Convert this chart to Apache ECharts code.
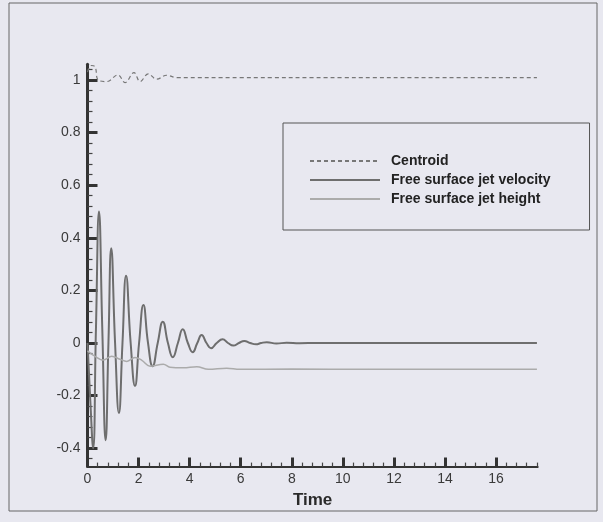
<!DOCTYPE html>
<html>
<head>
<meta charset="utf-8">
<script src="https://cdn.jsdelivr.net/npm/echarts@6/dist/echarts.min.js"></script>
<style>
html,body{margin:0;padding:0;background:#e8e8f0;}
#c{width:603px;height:522px;}
</style>
</head>
<body>
<div id="c"></div>
<script>
// ---- data ----
var seriesNames = ['Centroid', 'Free surface jet velocity', 'Free surface jet height'];
var xMajorTicks = [0, 2, 4, 6, 8, 10, 12, 14, 16];
var yMajorTicks = [-0.4, -0.2, 0, 0.2, 0.4, 0.6, 0.8, 1];
var centroid = [
  [0, 1.03], [0.16, 1.055], [0.3, 1.05], [0.42, 1.0], [0.75, 0.994], [1.19, 1.019],
  [1.47, 0.99], [1.82, 1.028], [2.06, 0.994], [2.38, 1.023], [2.71, 1.003],
  [3.1, 1.018], [3.5, 1.009], [6, 1.009], [10, 1.009], [14, 1.009], [17.6, 1.009]
];
var velocity = [
  [0, 0.0], [0.11, -0.22], [0.22, -0.40], [0.33, 0.05], [0.45, 0.50], [0.58, 0.05],
  [0.71, -0.37], [0.82, 0.0], [0.93, 0.36], [1.08, 0.0], [1.23, -0.266], [1.37, 0.0],
  [1.51, 0.256], [1.69, 0.0], [1.86, -0.163], [2.02, 0.0], [2.19, 0.144], [2.37, 0.0],
  [2.55, -0.088], [2.75, 0.0], [2.95, 0.081], [3.15, 0.0], [3.34, -0.054], [3.54, 0.0],
  [3.73, 0.052], [3.93, 0.0], [4.12, -0.035], [4.3, 0.0], [4.47, 0.030], [4.66, 0.0],
  [4.84, -0.020], [5.06, 0.0], [5.29, 0.014], [5.5, 0.0], [5.71, -0.010], [5.93, 0.0],
  [6.14, 0.008], [6.37, 0.0], [6.6, -0.005], [6.8, 0.0], [7.02, 0.003], [7.4, -0.002],
  [7.8, 0.001], [8.3, -0.001], [9, 0.0], [13, 0.0], [17.6, 0.0]
];
var height = [
  [0, -0.03], [0.22, -0.046], [0.62, -0.065], [0.95, -0.05], [1.27, -0.062],
  [1.54, -0.07], [1.86, -0.055], [2.13, -0.066], [2.45, -0.088], [2.97, -0.081],
  [3.23, -0.092], [3.75, -0.094], [4.28, -0.09], [4.73, -0.1], [5.45, -0.096],
  [5.97, -0.1], [8, -0.099], [11, -0.1], [14, -0.1], [17.6, -0.1]
];
var xRange = [0, 17.63];
var yRange = [-0.47, 1.06];

// minor tick positions (axis decoration)
function minors(lo, hi, step, majors) {
  var out = [];
  for (var v = lo; v <= hi + 1e-9; v += step) {
    var r = Math.round(v * 1000) / 1000;
    var isMajor = majors.some(function (m) { return Math.abs(m - r) < 1e-6; });
    if (!isMajor) out.push(r);
  }
  return out;
}
var xMinor = minors(0, 17.6, 0.4, xMajorTicks);
var yMinor = minors(-0.44, 1.04, 0.04, yMajorTicks);

var font = 'Liberation Sans, Arial, Helvetica, sans-serif';
var chart = echarts.init(document.getElementById('c'));
chart.setOption({
  backgroundColor: '#e8e8f0',
  animation: false,
  grid: { left: 87.5, right: 65.3, top: 64.2, bottom: 55.4, containLabel: false },
  xAxis: [{
    type: 'value', min: xRange[0], max: xRange[1], position: 'bottom',
    name: 'Time', nameLocation: 'middle', nameGap: 23,
    nameTextStyle: { fontFamily: font, fontSize: 17, fontWeight: 'bold', color: '#2a2a2a' },
    axisLine: { show: true, onZero: false, lineStyle: { color: '#333', width: 2 } },
    axisTick: { show: true, inside: true, length: 9, customValues: xMajorTicks, lineStyle: { color: '#333', width: 3 } },
    axisLabel: { show: true, customValues: xMajorTicks, margin: 6, fontFamily: font, fontSize: 14, color: '#3a3a3a' },
    splitLine: { show: false }
  }, {
    type: 'value', min: xRange[0], max: xRange[1], position: 'bottom',
    axisLine: { show: false, onZero: false },
    axisTick: { show: true, inside: true, length: 4, customValues: xMinor, lineStyle: { color: '#444', width: 1.2 } },
    axisLabel: { show: false },
    splitLine: { show: false }
  }],
  yAxis: [{
    type: 'value', min: yRange[0], max: yRange[1], position: 'left',
    axisLine: { show: true, onZero: false, lineStyle: { color: '#333', width: 3 } },
    axisTick: { show: true, inside: true, length: 10, customValues: yMajorTicks, lineStyle: { color: '#333', width: 3 } },
    axisLabel: { show: true, customValues: yMajorTicks, margin: 7, fontFamily: font, fontSize: 14, color: '#3a3a3a' },
    splitLine: { show: false }
  }, {
    type: 'value', min: yRange[0], max: yRange[1], position: 'left',
    axisLine: { show: false, onZero: false },
    axisTick: { show: true, inside: true, length: 5, customValues: yMinor, lineStyle: { color: '#444', width: 1.2 } },
    axisLabel: { show: false },
    splitLine: { show: false }
  }],
  legend: {
    left: 283, top: 123, orient: 'vertical',
    padding: [31, 39, 24, 26],
    borderColor: '#555', borderWidth: 1, borderRadius: 0,
    itemWidth: 70, itemHeight: 14, itemGap: 5,
    itemStyle: { color: 'rgba(0,0,0,0)', borderColor: 'rgba(0,0,0,0)', borderWidth: 0 },
    textStyle: { fontFamily: font, fontSize: 14, fontWeight: 'bold', color: '#222', padding: [0, 0, 0, 6] },
    data: seriesNames
  },
  graphic: [{
    type: 'rect', silent: true, z: -1,
    shape: { x: 9, y: 3, width: 588, height: 508 },
    style: { fill: 'none', stroke: '#666', lineWidth: 1 }
  }],
  series: [{
    name: seriesNames[0], type: 'line', data: centroid, showSymbol: false, symbol: 'none',
    smooth: 0.4, lineStyle: { color: '#777', width: 1.2, type: [4, 3] }, itemStyle: { color: '#777' }
  }, {
    name: seriesNames[1], type: 'line', data: velocity, showSymbol: false, symbol: 'none',
    smooth: 0.5, lineStyle: { color: '#6e6e6e', width: 2 }, itemStyle: { color: '#6e6e6e' }
  }, {
    name: seriesNames[2], type: 'line', data: height, showSymbol: false, symbol: 'none',
    smooth: 0.4, lineStyle: { color: '#ababab', width: 1.5 }, itemStyle: { color: '#ababab' }
  }]
});
</script>
</body>
</html>
